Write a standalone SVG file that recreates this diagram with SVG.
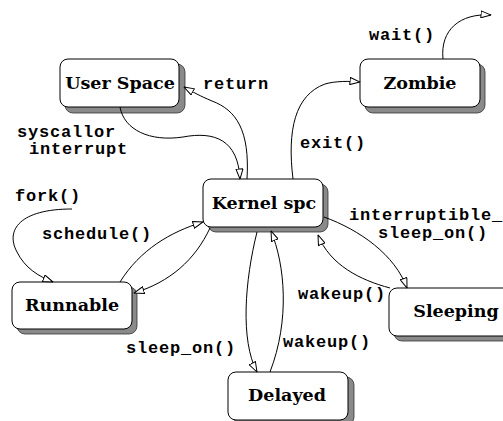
<svg xmlns="http://www.w3.org/2000/svg" width="503" height="421" viewBox="0 0 503 421">
  <style>
    .shadow { fill: #8a8a8a; stroke: #333; stroke-width: 0.8; }
    .box { fill: #fff; stroke: #000; stroke-width: 1; }
    .name { font-family: "DejaVu Serif", "Liberation Serif", serif; font-weight: bold; font-size: 17.5px; text-anchor: middle; fill: #000; }
    .lbl { font-family: "Liberation Mono", "Courier New", monospace; font-weight: bold; font-size: 17px; letter-spacing: 0.8px; fill: #000; }
    .edge { fill: none; stroke: #000; stroke-width: 1; marker-end: url(#open); }
  </style>
  <defs>
    <marker id="open" viewBox="0 0 11 8" refX="10.5" refY="4" markerWidth="11" markerHeight="8" markerUnits="userSpaceOnUse" orient="auto">
      <path d="M0.5,0.5 L10.5,4 L0.5,7.5 Z" fill="#fff" stroke="#000" stroke-width="1"/>
    </marker>
  </defs>
  <rect width="503" height="421" fill="#fff"/>

  <!-- state nodes -->
  <g id="user-space">
    <rect class="shadow" x="65" y="64" width="120" height="49" rx="8"/>
    <rect class="box" x="60" y="59" width="119" height="48" rx="8"/>
    <text class="name" x="120" y="89">User Space</text>
  </g>
  <g id="zombie">
    <rect class="shadow" x="365" y="64" width="120" height="49" rx="8"/>
    <rect class="box" x="360" y="59" width="120" height="48" rx="8"/>
    <text class="name" x="420" y="89">Zombie</text>
  </g>
  <g id="kernel-spc">
    <rect class="shadow" x="208" y="184" width="120" height="48" rx="8"/>
    <rect class="box" x="203" y="179" width="120" height="48" rx="8"/>
    <text class="name" x="264" y="209">Kernel spc</text>
  </g>
  <g id="runnable">
    <rect class="shadow" x="17" y="287" width="120" height="47" rx="8"/>
    <rect class="box" x="12" y="282" width="120" height="47" rx="8"/>
    <text class="name" x="72" y="311">Runnable</text>
  </g>
  <g id="sleeping">
    <rect class="shadow" x="394" y="293" width="130" height="48" rx="8"/>
    <rect class="box" x="389" y="288" width="130" height="48" rx="8"/>
    <text class="name" x="456" y="317">Sleeping</text>
  </g>
  <g id="delayed">
    <rect class="shadow" x="234" y="377" width="120" height="48" rx="8"/>
    <rect class="box" x="228" y="372" width="120" height="48" rx="8"/>
    <text class="name" x="287" y="401">Delayed</text>
  </g>

  <!-- transitions -->
  <g id="connectors">
    <path class="edge" d="M120,107 C124,130 150,142 183,137 C215,131 238,140 240,179"/>
    <path class="edge" d="M247,179 C250,130 236,110 212,101 C200,96 193,92 184,87"/>
    <path class="edge" d="M293,179 C287,130 295,95 325,84 C335,81 350,81 360,82"/>
    <path class="edge" d="M443,59 C440,30 460,13 491,15"/>
    <path class="edge" d="M72,209 C20,209 5,230 17,252 C25,268 38,276 53,282"/>
    <path class="edge" d="M120,282 C140,250 170,232 203,222"/>
    <path class="edge" d="M210,228 C195,260 170,282 134,293"/>
    <path class="edge" d="M257,232 C245,280 240,340 257,372"/>
    <path class="edge" d="M270,372 C290,320 285,265 271,231"/>
    <path class="edge" d="M324,217 C360,230 395,255 407,288"/>
    <path class="edge" d="M390,288 C360,280 330,265 318,235"/>
  </g>

  <!-- transition labels -->
  <g id="labels">
    <text class="lbl" x="203" y="89">return</text>
    <text class="lbl" x="369" y="40">wait()</text>
    <text class="lbl" x="17" y="137">syscallor</text>
    <text class="lbl" x="29" y="154">interrupt</text>
    <text class="lbl" x="300" y="148">exit()</text>
    <text class="lbl" x="15" y="201">fork()</text>
    <text class="lbl" x="42" y="239">schedule()</text>
    <text class="lbl" x="126" y="353">sleep_on()</text>
    <text class="lbl" x="349" y="220">interruptible_</text>
    <text class="lbl" x="378" y="238">sleep_on()</text>
    <text class="lbl" x="298" y="299">wakeup()</text>
    <text class="lbl" x="283" y="347">wakeup()</text>
  </g>
</svg>
